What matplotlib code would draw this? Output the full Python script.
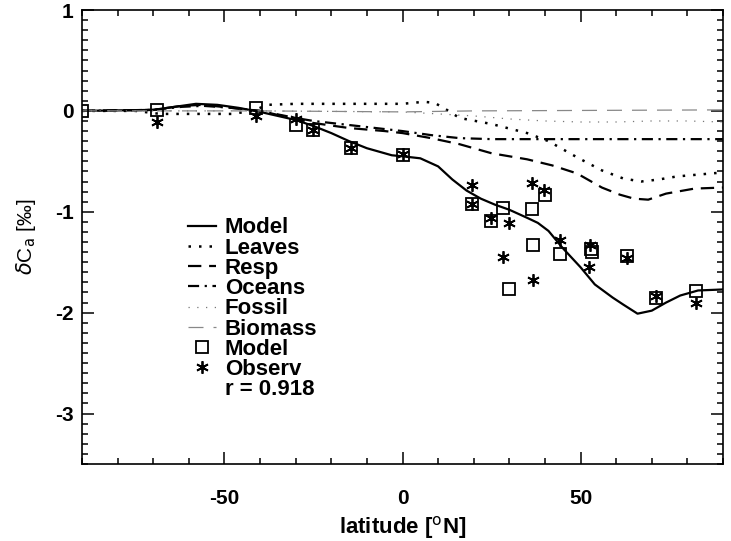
import numpy as np
import matplotlib
matplotlib.use("Agg")
import matplotlib.pyplot as plt
from matplotlib.ticker import MultipleLocator
from matplotlib.lines import Line2D

plt.rcParams['font.family'] = ['Liberation Sans', 'DejaVu Sans']
plt.rcParams['axes.unicode_minus'] = False

# curves (latitude, delta C_a in permil)
model_lat = [-90, -80, -70, -64, -58, -52, -46, -40, -35, -30, -25, -20, -15, -10, -6, -3, 0, 5,
             10, 14, 18, 22, 26, 30, 35, 38, 41, 45, 50, 54, 59, 62, 66, 70, 74, 78, 83, 90]
model_val = [0, 0.005, 0.01, 0.04, 0.07, 0.06, 0.03, -0.01, -0.05, -0.09, -0.15, -0.22, -0.30,
             -0.37, -0.41, -0.44, -0.45, -0.47, -0.55, -0.68, -0.79, -0.87, -0.93, -0.98, -1.06,
             -1.11, -1.19, -1.36, -1.55, -1.72, -1.85, -1.92, -2.01, -1.98, -1.90, -1.83, -1.78, -1.77]

leaves_lat = [-90, -75, -68, -48, -42, -38, -30, -10, 0, 6, 9, 12, 16, 25, 35, 41, 49, 56, 62, 67,
              72, 77, 90]
leaves_val = [0, 0, -0.03, -0.03, 0.0, 0.06, 0.07, 0.07, 0.07, 0.09, 0.08, 0.02, -0.07, -0.13,
              -0.22, -0.30, -0.46, -0.59, -0.67, -0.70, -0.68, -0.65, -0.61]

resp_lat = [-90, -70, -62, -56, -48, -40, -30, -25, -15, -5, 0, 8, 16, 25, 35, 42, 49, 56, 61, 65,
            69, 74, 82, 90]
resp_val = [0, 0.01, 0.05, 0.06, 0.03, 0.0, -0.08, -0.12, -0.17, -0.20, -0.22, -0.27, -0.33, -0.42,
            -0.48, -0.54, -0.62, -0.76, -0.83, -0.87, -0.88, -0.82, -0.77, -0.76]

oceans_lat = [-90, -70, -62, -56, -48, -40, -30, -25, -15, -5, 0, 8, 16, 25, 40, 60, 90]
oceans_val = [0, 0.01, 0.04, 0.05, 0.03, 0.0, -0.07, -0.10, -0.14, -0.18, -0.20, -0.24, -0.27,
              -0.28, -0.28, -0.28, -0.28]

fossil_lat = [-90, -40, 0, 10, 20, 30, 40, 50, 60, 70, 80, 90]
fossil_val = [0, 0.0, -0.01, -0.03, -0.05, -0.08, -0.10, -0.11, -0.11, -0.10, -0.10, -0.11]

biomass_lat = [-90, -40, 0, 20, 90]
biomass_val = [0, 0.0, -0.01, 0.0, 0.01]

# station points
model_pts_lat = [-90, -69, -41, -30, -25, -14.5, 0, 19.5, 24.9, 28.2, 29.9, 36.4, 36.6, 40, 44.2,
                 52.9, 53.2, 63, 71.2, 82.4]
model_pts_val = [0.0, 0.01, 0.03, -0.14, -0.19, -0.37, -0.44, -0.92, -1.09, -0.96, -1.77, -0.97,
                 -1.33, -0.83, -1.42, -1.37, -1.40, -1.44, -1.85, -1.79]

obs_lat = [-69, -41, -30, -25, -14.5, 0, 19.5, 19.5, 24.9, 28.2, 29.9, 36.4, 36.6, 39.7, 44.2,
           52.4, 52.7, 63, 71.2, 82.4]
obs_val = [-0.11, -0.05, -0.08, -0.19, -0.37, -0.43, -0.73, -0.92, -1.06, -1.45, -1.11, -0.71,
           -1.68, -0.78, -1.28, -1.55, -1.33, -1.46, -1.83, -1.90]

r_value = 0.918

fig = plt.figure(figsize=(7.31, 5.41), dpi=100)
ax = fig.add_axes([82 / 731, 77 / 541, 641 / 731, 454 / 541])

ax.plot(model_lat, model_val, color='black', lw=1.6, ls='-', label='Model')
ax.plot(leaves_lat, leaves_val, color='black', lw=1.8, ls=(0, (1, 3.2)), label='Leaves')
ax.plot(resp_lat, resp_val, color='black', lw=1.6, ls=(0, (6, 3.5)), label='Resp')
ax.plot(oceans_lat, oceans_val, color='black', lw=1.6, ls=(0, (5, 2.5, 1, 2.5)), label='Oceans')
ax.plot(fossil_lat, fossil_val, color='#777777', lw=0.9, ls=(0, (1, 6)), label='Fossil')
ax.plot(biomass_lat, biomass_val, color='#888888', lw=0.9, ls=(0, (12, 8)), label='Biomass')
ax.plot(model_pts_lat, model_pts_val, ls='none', marker='s', ms=8, mfc='none', mec='black',
        mew=1.3, label='Model')
ax.plot(obs_lat, obs_val, ls='none', marker=(6, 2, 0), ms=9, mec='black', mew=1.3,
        label='Observ')

ax.set_xlim(-90, 90)
ax.set_ylim(-3.5, 1.0)
ax.xaxis.set_major_locator(MultipleLocator(50))
ax.xaxis.set_minor_locator(MultipleLocator(10))
ax.yaxis.set_major_locator(MultipleLocator(1))
ax.yaxis.set_minor_locator(MultipleLocator(0.1))
ax.tick_params(which='both', direction='in', top=True, right=True, width=1.1)
ax.tick_params(which='major', length=8.5)
ax.tick_params(which='minor', length=4.3)
ax.tick_params(axis='x', which='major', pad=18)
ax.tick_params(axis='y', which='major', pad=6)
for lab in ax.get_xticklabels() + ax.get_yticklabels():
    lab.set_fontsize(15)
    lab.set_fontweight('bold')
for sp in ax.spines.values():
    sp.set_linewidth(1.2)

ax.set_xlabel('latitude [$^{\\rm o}$N]', fontsize=16, fontweight='bold', labelpad=4)
ax.set_ylabel('$\\delta$C$_{\\rm a}$ [‰]', fontsize=15, labelpad=12)

handles, labels = ax.get_legend_handles_labels()
handles.append(Line2D([], [], ls='none'))
labels.append('r = %.3f' % r_value)
ax.legend(handles, labels, loc='upper left', bbox_to_anchor=(0.165, 0.543), frameon=False,
          borderpad=0, borderaxespad=0, handlelength=1.26, handletextpad=0.4,
          labelspacing=-0.035, prop={'size': 16, 'weight': 'bold'})

fig.savefig('out.png', dpi=100)
